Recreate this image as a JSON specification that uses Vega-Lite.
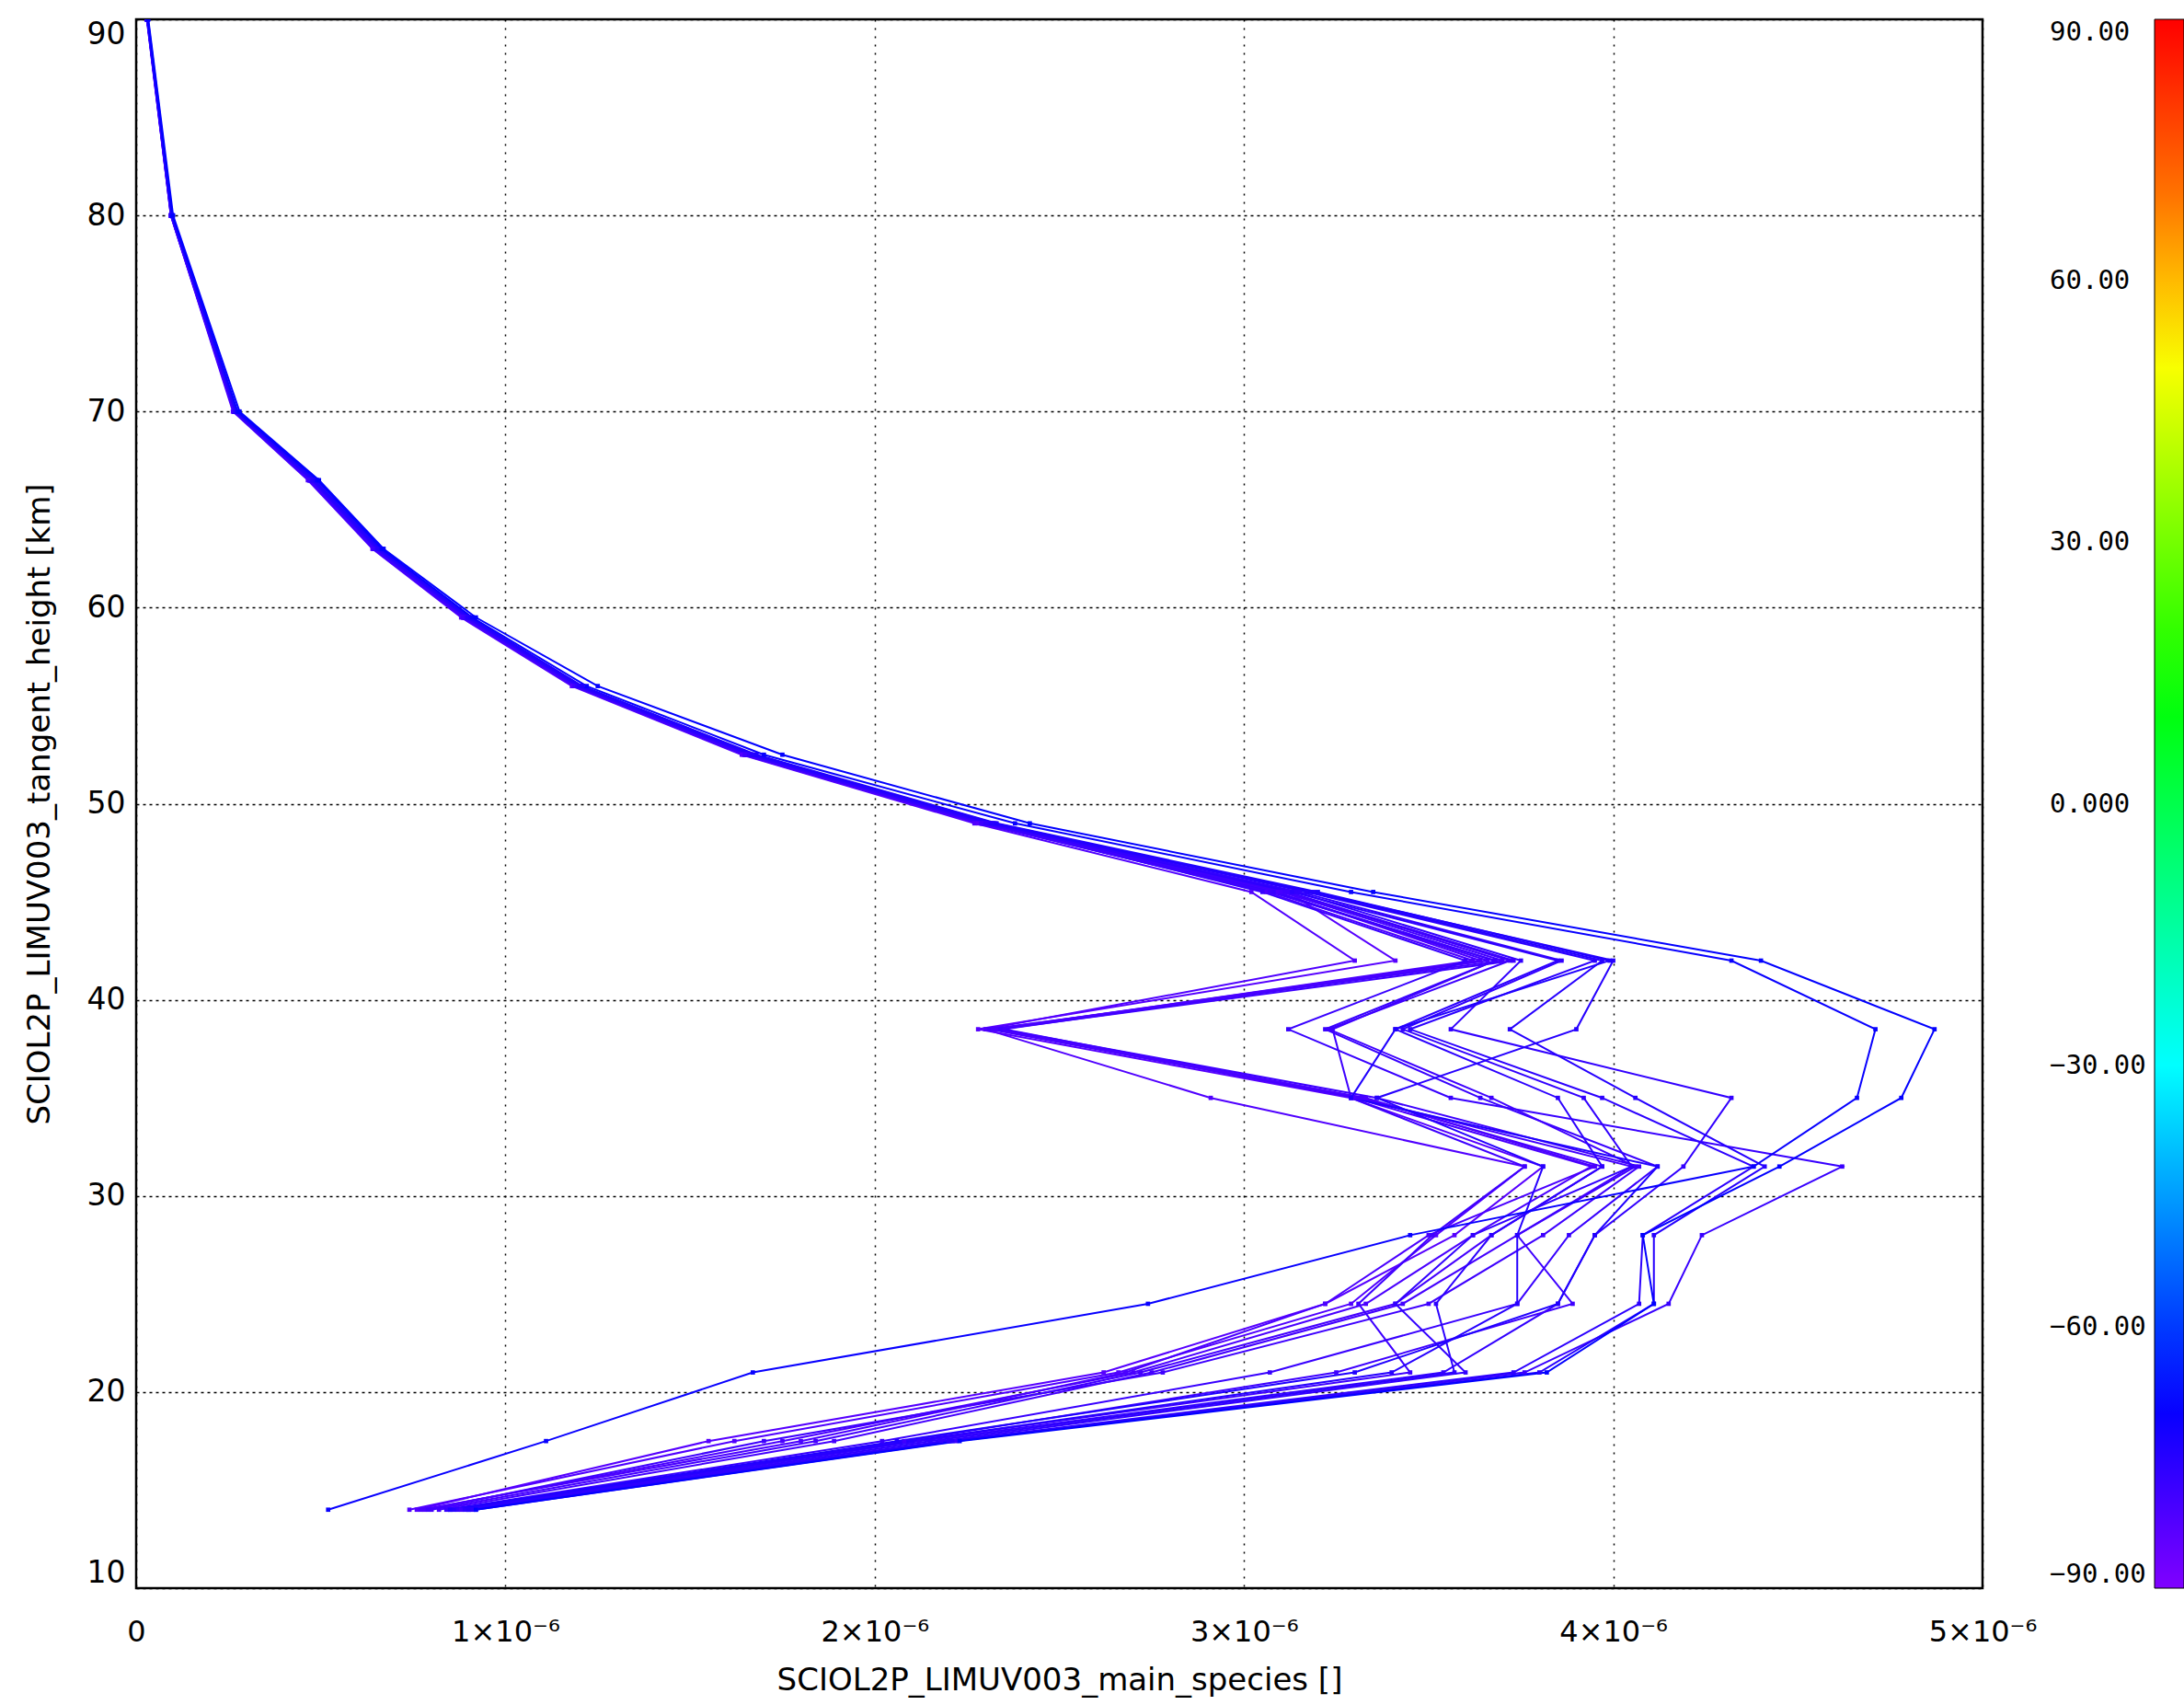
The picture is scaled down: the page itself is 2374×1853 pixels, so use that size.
{
  "$schema": "https://vega.github.io/schema/vega-lite/v6.json",
  "width": 2007,
  "height": 1705,
  "autosize": {"type": "none"},
  "padding": {"left": 148, "top": 21, "right": 219, "bottom": 127},
  "background": "white",
  "title": {"text": "Ozone along the orbit (colour = latitude at height)", "anchor": "middle", "baseline": "alphabetic", "offset": 23, "fontSize": 34, "font": "DejaVu Sans", "fontWeight": "normal", "color": "black", "dx": 90},
  "config": {
    "view": {"stroke": "black", "strokeWidth": 2.5},
    "axis": {"labelFont": "DejaVu Sans", "titleFont": "DejaVu Sans", "labelColor": "black", "titleColor": "black", "titleFontWeight": "normal", "grid": true, "gridColor": "black", "gridOpacity": 1, "gridWidth": 1.5, "ticks": false, "domain": false}
  },
  "resolve": {"legend": {"color": "independent"}},
  "datasets": {
    "profiles": [
      {"p":1,"lat":-82,"h":90,"v":0.030e-6},{"p":1,"lat":-82,"h":80,"v":0.094e-6},{"p":1,"lat":-82,"h":70,"v":0.262e-6},{"p":1,"lat":-82,"h":66.5,"v":0.465e-6},{"p":1,"lat":-82,"h":63,"v":0.640e-6},{"p":1,"lat":-82,"h":59.5,"v":0.880e-6},{"p":1,"lat":-82,"h":56,"v":1.180e-6},{"p":1,"lat":-82,"h":52.5,"v":1.640e-6},{"p":1,"lat":-82,"h":49,"v":2.270e-6},{"p":1,"lat":-82,"h":45.5,"v":3.020e-6},{"p":1,"lat":-82,"h":42,"v":3.300e-6},{"p":1,"lat":-82,"h":38.5,"v":2.300e-6},{"p":1,"lat":-82,"h":35,"v":2.910e-6},{"p":1,"lat":-82,"h":31.5,"v":3.760e-6},{"p":1,"lat":-82,"h":28,"v":3.520e-6},{"p":1,"lat":-82,"h":24.5,"v":3.290e-6},{"p":1,"lat":-82,"h":21,"v":2.660e-6},{"p":1,"lat":-82,"h":17.5,"v":1.620e-6},{"p":1,"lat":-82,"h":14,"v":0.740e-6},
      {"p":2,"lat":-83,"h":90,"v":0.030e-6},{"p":2,"lat":-83,"h":80,"v":0.095e-6},{"p":2,"lat":-83,"h":70,"v":0.265e-6},{"p":2,"lat":-83,"h":66.5,"v":0.470e-6},{"p":2,"lat":-83,"h":63,"v":0.645e-6},{"p":2,"lat":-83,"h":59.5,"v":0.885e-6},{"p":2,"lat":-83,"h":56,"v":1.185e-6},{"p":2,"lat":-83,"h":52.5,"v":1.645e-6},{"p":2,"lat":-83,"h":49,"v":2.280e-6},{"p":2,"lat":-83,"h":45.5,"v":3.120e-6},{"p":2,"lat":-83,"h":42,"v":3.410e-6},{"p":2,"lat":-83,"h":38.5,"v":2.280e-6},{"p":2,"lat":-83,"h":35,"v":3.290e-6},{"p":2,"lat":-83,"h":31.5,"v":3.810e-6},{"p":2,"lat":-83,"h":28,"v":3.570e-6},{"p":2,"lat":-83,"h":24.5,"v":3.220e-6},{"p":2,"lat":-83,"h":21,"v":2.620e-6},{"p":2,"lat":-83,"h":17.5,"v":1.550e-6},{"p":2,"lat":-83,"h":14,"v":0.760e-6},
      {"p":3,"lat":-81,"h":90,"v":0.031e-6},{"p":3,"lat":-81,"h":80,"v":0.096e-6},{"p":3,"lat":-81,"h":70,"v":0.266e-6},{"p":3,"lat":-81,"h":66.5,"v":0.472e-6},{"p":3,"lat":-81,"h":63,"v":0.648e-6},{"p":3,"lat":-81,"h":59.5,"v":0.890e-6},{"p":3,"lat":-81,"h":56,"v":1.190e-6},{"p":3,"lat":-81,"h":52.5,"v":1.650e-6},{"p":3,"lat":-81,"h":49,"v":2.290e-6},{"p":3,"lat":-81,"h":45.5,"v":3.060e-6},{"p":3,"lat":-81,"h":42,"v":3.620e-6},{"p":3,"lat":-81,"h":38.5,"v":2.330e-6},{"p":3,"lat":-81,"h":35,"v":3.300e-6},{"p":3,"lat":-81,"h":31.5,"v":3.940e-6},{"p":3,"lat":-81,"h":28,"v":3.620e-6},{"p":3,"lat":-81,"h":24.5,"v":3.330e-6},{"p":3,"lat":-81,"h":21,"v":2.700e-6},{"p":3,"lat":-81,"h":17.5,"v":1.750e-6},{"p":3,"lat":-81,"h":14,"v":0.780e-6},
      {"p":4,"lat":-80,"h":90,"v":0.030e-6},{"p":4,"lat":-80,"h":80,"v":0.095e-6},{"p":4,"lat":-80,"h":70,"v":0.268e-6},{"p":4,"lat":-80,"h":66.5,"v":0.475e-6},{"p":4,"lat":-80,"h":63,"v":0.650e-6},{"p":4,"lat":-80,"h":59.5,"v":0.895e-6},{"p":4,"lat":-80,"h":56,"v":1.195e-6},{"p":4,"lat":-80,"h":52.5,"v":1.660e-6},{"p":4,"lat":-80,"h":49,"v":2.300e-6},{"p":4,"lat":-80,"h":45.5,"v":3.080e-6},{"p":4,"lat":-80,"h":42,"v":3.660e-6},{"p":4,"lat":-80,"h":38.5,"v":2.350e-6},{"p":4,"lat":-80,"h":35,"v":3.320e-6},{"p":4,"lat":-80,"h":31.5,"v":3.970e-6},{"p":4,"lat":-80,"h":28,"v":3.670e-6},{"p":4,"lat":-80,"h":24.5,"v":3.410e-6},{"p":4,"lat":-80,"h":21,"v":2.720e-6},{"p":4,"lat":-80,"h":17.5,"v":1.840e-6},{"p":4,"lat":-80,"h":14,"v":0.800e-6},
      {"p":5,"lat":-80,"h":90,"v":0.029e-6},{"p":5,"lat":-80,"h":80,"v":0.094e-6},{"p":5,"lat":-80,"h":70,"v":0.264e-6},{"p":5,"lat":-80,"h":66.5,"v":0.468e-6},{"p":5,"lat":-80,"h":63,"v":0.642e-6},{"p":5,"lat":-80,"h":59.5,"v":0.885e-6},{"p":5,"lat":-80,"h":56,"v":1.188e-6},{"p":5,"lat":-80,"h":52.5,"v":1.652e-6},{"p":5,"lat":-80,"h":49,"v":2.295e-6},{"p":5,"lat":-80,"h":45.5,"v":3.100e-6},{"p":5,"lat":-80,"h":42,"v":3.700e-6},{"p":5,"lat":-80,"h":38.5,"v":2.310e-6},{"p":5,"lat":-80,"h":35,"v":3.310e-6},{"p":5,"lat":-80,"h":31.5,"v":4.050e-6},{"p":5,"lat":-80,"h":28,"v":3.740e-6},{"p":5,"lat":-80,"h":24.5,"v":3.430e-6},{"p":5,"lat":-80,"h":21,"v":2.750e-6},{"p":5,"lat":-80,"h":17.5,"v":1.890e-6},{"p":5,"lat":-80,"h":14,"v":0.820e-6},
      {"p":6,"lat":-79,"h":90,"v":0.030e-6},{"p":6,"lat":-79,"h":80,"v":0.095e-6},{"p":6,"lat":-79,"h":70,"v":0.266e-6},{"p":6,"lat":-79,"h":66.5,"v":0.470e-6},{"p":6,"lat":-79,"h":63,"v":0.646e-6},{"p":6,"lat":-79,"h":59.5,"v":0.892e-6},{"p":6,"lat":-79,"h":56,"v":1.192e-6},{"p":6,"lat":-79,"h":52.5,"v":1.656e-6},{"p":6,"lat":-79,"h":49,"v":2.300e-6},{"p":6,"lat":-79,"h":45.5,"v":3.120e-6},{"p":6,"lat":-79,"h":42,"v":3.730e-6},{"p":6,"lat":-79,"h":38.5,"v":2.340e-6},{"p":6,"lat":-79,"h":35,"v":3.360e-6},{"p":6,"lat":-79,"h":31.5,"v":4.070e-6},{"p":6,"lat":-79,"h":28,"v":3.810e-6},{"p":6,"lat":-79,"h":24.5,"v":3.500e-6},{"p":6,"lat":-79,"h":21,"v":2.780e-6},{"p":6,"lat":-79,"h":17.5,"v":1.700e-6},{"p":6,"lat":-79,"h":14,"v":0.790e-6},
      {"p":7,"lat":-81,"h":90,"v":0.030e-6},{"p":7,"lat":-81,"h":80,"v":0.095e-6},{"p":7,"lat":-81,"h":70,"v":0.265e-6},{"p":7,"lat":-81,"h":66.5,"v":0.470e-6},{"p":7,"lat":-81,"h":63,"v":0.645e-6},{"p":7,"lat":-81,"h":59.5,"v":0.888e-6},{"p":7,"lat":-81,"h":56,"v":1.190e-6},{"p":7,"lat":-81,"h":52.5,"v":1.650e-6},{"p":7,"lat":-81,"h":49,"v":2.290e-6},{"p":7,"lat":-81,"h":45.5,"v":3.090e-6},{"p":7,"lat":-81,"h":42,"v":3.640e-6},{"p":7,"lat":-81,"h":38.5,"v":2.320e-6},{"p":7,"lat":-81,"h":35,"v":3.330e-6},{"p":7,"lat":-81,"h":31.5,"v":3.950e-6},{"p":7,"lat":-81,"h":28,"v":3.500e-6},{"p":7,"lat":-81,"h":24.5,"v":3.220e-6},{"p":7,"lat":-81,"h":21,"v":2.680e-6},{"p":7,"lat":-81,"h":17.5,"v":1.800e-6},{"p":7,"lat":-81,"h":14,"v":0.770e-6},
      {"p":8,"lat":-77,"h":90,"v":0.031e-6},{"p":8,"lat":-77,"h":80,"v":0.097e-6},{"p":8,"lat":-77,"h":70,"v":0.270e-6},{"p":8,"lat":-77,"h":66.5,"v":0.480e-6},{"p":8,"lat":-77,"h":63,"v":0.655e-6},{"p":8,"lat":-77,"h":59.5,"v":0.900e-6},{"p":8,"lat":-77,"h":56,"v":1.200e-6},{"p":8,"lat":-77,"h":52.5,"v":1.670e-6},{"p":8,"lat":-77,"h":49,"v":2.320e-6},{"p":8,"lat":-77,"h":45.5,"v":3.140e-6},{"p":8,"lat":-77,"h":42,"v":3.750e-6},{"p":8,"lat":-77,"h":38.5,"v":3.560e-6},{"p":8,"lat":-77,"h":35,"v":4.320e-6},{"p":8,"lat":-77,"h":31.5,"v":4.190e-6},{"p":8,"lat":-77,"h":28,"v":3.950e-6},{"p":8,"lat":-77,"h":24.5,"v":3.850e-6},{"p":8,"lat":-77,"h":21,"v":3.540e-6},{"p":8,"lat":-77,"h":17.5,"v":2.120e-6},{"p":8,"lat":-77,"h":14,"v":0.870e-6},
      {"p":9,"lat":-78,"h":90,"v":0.030e-6},{"p":9,"lat":-78,"h":80,"v":0.096e-6},{"p":9,"lat":-78,"h":70,"v":0.268e-6},{"p":9,"lat":-78,"h":66.5,"v":0.476e-6},{"p":9,"lat":-78,"h":63,"v":0.652e-6},{"p":9,"lat":-78,"h":59.5,"v":0.895e-6},{"p":9,"lat":-78,"h":56,"v":1.196e-6},{"p":9,"lat":-78,"h":52.5,"v":1.662e-6},{"p":9,"lat":-78,"h":49,"v":2.305e-6},{"p":9,"lat":-78,"h":45.5,"v":3.050e-6},{"p":9,"lat":-78,"h":42,"v":3.600e-6},{"p":9,"lat":-78,"h":38.5,"v":3.120e-6},{"p":9,"lat":-78,"h":35,"v":3.560e-6},{"p":9,"lat":-78,"h":31.5,"v":4.620e-6},{"p":9,"lat":-78,"h":28,"v":4.240e-6},{"p":9,"lat":-78,"h":24.5,"v":4.150e-6},{"p":9,"lat":-78,"h":21,"v":3.760e-6},{"p":9,"lat":-78,"h":17.5,"v":2.220e-6},{"p":9,"lat":-78,"h":14,"v":0.920e-6},
      {"p":10,"lat":-78,"h":90,"v":0.030e-6},{"p":10,"lat":-78,"h":80,"v":0.095e-6},{"p":10,"lat":-78,"h":70,"v":0.267e-6},{"p":10,"lat":-78,"h":66.5,"v":0.474e-6},{"p":10,"lat":-78,"h":63,"v":0.648e-6},{"p":10,"lat":-78,"h":59.5,"v":0.890e-6},{"p":10,"lat":-78,"h":56,"v":1.190e-6},{"p":10,"lat":-78,"h":52.5,"v":1.655e-6},{"p":10,"lat":-78,"h":49,"v":2.295e-6},{"p":10,"lat":-78,"h":45.5,"v":3.080e-6},{"p":10,"lat":-78,"h":42,"v":3.680e-6},{"p":10,"lat":-78,"h":38.5,"v":3.220e-6},{"p":10,"lat":-78,"h":35,"v":3.640e-6},{"p":10,"lat":-78,"h":31.5,"v":4.120e-6},{"p":10,"lat":-78,"h":28,"v":3.880e-6},{"p":10,"lat":-78,"h":24.5,"v":3.740e-6},{"p":10,"lat":-78,"h":21,"v":3.070e-6},{"p":10,"lat":-78,"h":17.5,"v":2.020e-6},{"p":10,"lat":-78,"h":14,"v":0.840e-6},
      {"p":11,"lat":-79,"h":90,"v":0.030e-6},{"p":11,"lat":-79,"h":80,"v":0.095e-6},{"p":11,"lat":-79,"h":70,"v":0.266e-6},{"p":11,"lat":-79,"h":66.5,"v":0.471e-6},{"p":11,"lat":-79,"h":63,"v":0.646e-6},{"p":11,"lat":-79,"h":59.5,"v":0.890e-6},{"p":11,"lat":-79,"h":56,"v":1.192e-6},{"p":11,"lat":-79,"h":52.5,"v":1.652e-6},{"p":11,"lat":-79,"h":49,"v":2.292e-6},{"p":11,"lat":-79,"h":45.5,"v":3.110e-6},{"p":11,"lat":-79,"h":42,"v":3.720e-6},{"p":11,"lat":-79,"h":38.5,"v":3.230e-6},{"p":11,"lat":-79,"h":35,"v":3.670e-6},{"p":11,"lat":-79,"h":31.5,"v":4.060e-6},{"p":11,"lat":-79,"h":28,"v":3.740e-6},{"p":11,"lat":-79,"h":24.5,"v":3.890e-6},{"p":11,"lat":-79,"h":21,"v":3.250e-6},{"p":11,"lat":-79,"h":17.5,"v":2.080e-6},{"p":11,"lat":-79,"h":14,"v":0.850e-6},
      {"p":12,"lat":-79,"h":90,"v":0.029e-6},{"p":12,"lat":-79,"h":80,"v":0.094e-6},{"p":12,"lat":-79,"h":70,"v":0.265e-6},{"p":12,"lat":-79,"h":66.5,"v":0.469e-6},{"p":12,"lat":-79,"h":63,"v":0.644e-6},{"p":12,"lat":-79,"h":59.5,"v":0.887e-6},{"p":12,"lat":-79,"h":56,"v":1.187e-6},{"p":12,"lat":-79,"h":52.5,"v":1.648e-6},{"p":12,"lat":-79,"h":49,"v":2.288e-6},{"p":12,"lat":-79,"h":45.5,"v":3.070e-6},{"p":12,"lat":-79,"h":42,"v":3.680e-6},{"p":12,"lat":-79,"h":38.5,"v":3.240e-6},{"p":12,"lat":-79,"h":35,"v":3.290e-6},{"p":12,"lat":-79,"h":31.5,"v":3.760e-6},{"p":12,"lat":-79,"h":28,"v":3.510e-6},{"p":12,"lat":-79,"h":24.5,"v":3.310e-6},{"p":12,"lat":-79,"h":21,"v":3.450e-6},{"p":12,"lat":-79,"h":17.5,"v":2.100e-6},{"p":12,"lat":-79,"h":14,"v":0.880e-6},
      {"p":13,"lat":-76,"h":90,"v":0.031e-6},{"p":13,"lat":-76,"h":80,"v":0.096e-6},{"p":13,"lat":-76,"h":70,"v":0.269e-6},{"p":13,"lat":-76,"h":66.5,"v":0.478e-6},{"p":13,"lat":-76,"h":63,"v":0.653e-6},{"p":13,"lat":-76,"h":59.5,"v":0.897e-6},{"p":13,"lat":-76,"h":56,"v":1.198e-6},{"p":13,"lat":-76,"h":52.5,"v":1.665e-6},{"p":13,"lat":-76,"h":49,"v":2.310e-6},{"p":13,"lat":-76,"h":45.5,"v":3.130e-6},{"p":13,"lat":-76,"h":42,"v":3.850e-6},{"p":13,"lat":-76,"h":38.5,"v":3.410e-6},{"p":13,"lat":-76,"h":35,"v":3.850e-6},{"p":13,"lat":-76,"h":31.5,"v":3.970e-6},{"p":13,"lat":-76,"h":28,"v":3.670e-6},{"p":13,"lat":-76,"h":24.5,"v":3.520e-6},{"p":13,"lat":-76,"h":21,"v":3.570e-6},{"p":13,"lat":-76,"h":17.5,"v":2.150e-6},{"p":13,"lat":-76,"h":14,"v":0.890e-6},
      {"p":14,"lat":-77,"h":90,"v":0.030e-6},{"p":14,"lat":-77,"h":80,"v":0.096e-6},{"p":14,"lat":-77,"h":70,"v":0.268e-6},{"p":14,"lat":-77,"h":66.5,"v":0.476e-6},{"p":14,"lat":-77,"h":63,"v":0.650e-6},{"p":14,"lat":-77,"h":59.5,"v":0.894e-6},{"p":14,"lat":-77,"h":56,"v":1.194e-6},{"p":14,"lat":-77,"h":52.5,"v":1.660e-6},{"p":14,"lat":-77,"h":49,"v":2.300e-6},{"p":14,"lat":-77,"h":45.5,"v":3.150e-6},{"p":14,"lat":-77,"h":42,"v":3.860e-6},{"p":14,"lat":-77,"h":38.5,"v":3.430e-6},{"p":14,"lat":-77,"h":35,"v":3.920e-6},{"p":14,"lat":-77,"h":31.5,"v":4.050e-6},{"p":14,"lat":-77,"h":28,"v":3.620e-6},{"p":14,"lat":-77,"h":24.5,"v":3.410e-6},{"p":14,"lat":-77,"h":21,"v":3.600e-6},{"p":14,"lat":-77,"h":17.5,"v":2.180e-6},{"p":14,"lat":-77,"h":14,"v":0.900e-6},
      {"p":15,"lat":-76,"h":90,"v":0.031e-6},{"p":15,"lat":-76,"h":80,"v":0.097e-6},{"p":15,"lat":-76,"h":70,"v":0.270e-6},{"p":15,"lat":-76,"h":66.5,"v":0.480e-6},{"p":15,"lat":-76,"h":63,"v":0.656e-6},{"p":15,"lat":-76,"h":59.5,"v":0.900e-6},{"p":15,"lat":-76,"h":56,"v":1.202e-6},{"p":15,"lat":-76,"h":52.5,"v":1.672e-6},{"p":15,"lat":-76,"h":49,"v":2.320e-6},{"p":15,"lat":-76,"h":45.5,"v":3.170e-6},{"p":15,"lat":-76,"h":42,"v":3.950e-6},{"p":15,"lat":-76,"h":38.5,"v":3.450e-6},{"p":15,"lat":-76,"h":35,"v":3.970e-6},{"p":15,"lat":-76,"h":31.5,"v":4.380e-6},{"p":15,"lat":-76,"h":28,"v":4.080e-6},{"p":15,"lat":-76,"h":24.5,"v":4.070e-6},{"p":15,"lat":-76,"h":21,"v":3.730e-6},{"p":15,"lat":-76,"h":17.5,"v":2.200e-6},{"p":15,"lat":-76,"h":14,"v":0.910e-6},
      {"p":16,"lat":-75,"h":90,"v":0.031e-6},{"p":16,"lat":-75,"h":80,"v":0.097e-6},{"p":16,"lat":-75,"h":70,"v":0.271e-6},{"p":16,"lat":-75,"h":66.5,"v":0.482e-6},{"p":16,"lat":-75,"h":63,"v":0.658e-6},{"p":16,"lat":-75,"h":59.5,"v":0.902e-6},{"p":16,"lat":-75,"h":56,"v":1.205e-6},{"p":16,"lat":-75,"h":52.5,"v":1.675e-6},{"p":16,"lat":-75,"h":49,"v":2.325e-6},{"p":16,"lat":-75,"h":45.5,"v":3.180e-6},{"p":16,"lat":-75,"h":42,"v":3.970e-6},{"p":16,"lat":-75,"h":38.5,"v":3.720e-6},{"p":16,"lat":-75,"h":35,"v":4.060e-6},{"p":16,"lat":-75,"h":31.5,"v":4.410e-6},{"p":16,"lat":-75,"h":28,"v":4.110e-6},{"p":16,"lat":-75,"h":24.5,"v":4.110e-6},{"p":16,"lat":-75,"h":21,"v":3.800e-6},{"p":16,"lat":-75,"h":17.5,"v":2.210e-6},{"p":16,"lat":-75,"h":14,"v":0.900e-6},
      {"p":17,"lat":-75,"h":90,"v":0.030e-6},{"p":17,"lat":-75,"h":80,"v":0.096e-6},{"p":17,"lat":-75,"h":70,"v":0.269e-6},{"p":17,"lat":-75,"h":66.5,"v":0.478e-6},{"p":17,"lat":-75,"h":63,"v":0.654e-6},{"p":17,"lat":-75,"h":59.5,"v":0.898e-6},{"p":17,"lat":-75,"h":56,"v":1.200e-6},{"p":17,"lat":-75,"h":52.5,"v":1.668e-6},{"p":17,"lat":-75,"h":49,"v":2.315e-6},{"p":17,"lat":-75,"h":45.5,"v":3.190e-6},{"p":17,"lat":-75,"h":42,"v":4.000e-6},{"p":17,"lat":-75,"h":38.5,"v":3.900e-6},{"p":17,"lat":-75,"h":35,"v":3.360e-6},{"p":17,"lat":-75,"h":31.5,"v":3.810e-6},{"p":17,"lat":-75,"h":28,"v":3.740e-6},{"p":17,"lat":-75,"h":24.5,"v":3.740e-6},{"p":17,"lat":-75,"h":21,"v":3.400e-6},{"p":17,"lat":-75,"h":17.5,"v":2.100e-6},{"p":17,"lat":-75,"h":14,"v":0.860e-6},
      {"p":18,"lat":-74,"h":90,"v":0.031e-6},{"p":18,"lat":-74,"h":80,"v":0.097e-6},{"p":18,"lat":-74,"h":70,"v":0.272e-6},{"p":18,"lat":-74,"h":66.5,"v":0.484e-6},{"p":18,"lat":-74,"h":63,"v":0.660e-6},{"p":18,"lat":-74,"h":59.5,"v":0.905e-6},{"p":18,"lat":-74,"h":56,"v":1.208e-6},{"p":18,"lat":-74,"h":52.5,"v":1.680e-6},{"p":18,"lat":-74,"h":49,"v":2.330e-6},{"p":18,"lat":-74,"h":45.5,"v":3.200e-6},{"p":18,"lat":-74,"h":42,"v":3.990e-6},{"p":18,"lat":-74,"h":38.5,"v":3.410e-6},{"p":18,"lat":-74,"h":35,"v":3.290e-6},{"p":18,"lat":-74,"h":31.5,"v":4.120e-6},{"p":18,"lat":-74,"h":28,"v":3.950e-6},{"p":18,"lat":-74,"h":24.5,"v":3.850e-6},{"p":18,"lat":-74,"h":21,"v":3.300e-6},{"p":18,"lat":-74,"h":17.5,"v":2.060e-6},{"p":18,"lat":-74,"h":14,"v":0.850e-6},
      {"p":19,"lat":-70,"h":90,"v":0.032e-6},{"p":19,"lat":-70,"h":80,"v":0.098e-6},{"p":19,"lat":-70,"h":70,"v":0.275e-6},{"p":19,"lat":-70,"h":66.5,"v":0.490e-6},{"p":19,"lat":-70,"h":63,"v":0.665e-6},{"p":19,"lat":-70,"h":59.5,"v":0.910e-6},{"p":19,"lat":-70,"h":56,"v":1.220e-6},{"p":19,"lat":-70,"h":52.5,"v":1.700e-6},{"p":19,"lat":-70,"h":49,"v":2.380e-6},{"p":19,"lat":-70,"h":45.5,"v":3.290e-6},{"p":19,"lat":-70,"h":42,"v":4.320e-6},{"p":19,"lat":-70,"h":38.5,"v":4.710e-6},{"p":19,"lat":-70,"h":35,"v":4.660e-6},{"p":19,"lat":-70,"h":31.5,"v":4.380e-6},{"p":19,"lat":-70,"h":28,"v":3.450e-6},{"p":19,"lat":-70,"h":24.5,"v":2.740e-6},{"p":19,"lat":-70,"h":21,"v":1.670e-6},{"p":19,"lat":-70,"h":17.5,"v":1.110e-6},{"p":19,"lat":-70,"h":14,"v":0.520e-6},
      {"p":20,"lat":-69,"h":90,"v":0.033e-6},{"p":20,"lat":-69,"h":80,"v":0.100e-6},{"p":20,"lat":-69,"h":70,"v":0.280e-6},{"p":20,"lat":-69,"h":66.5,"v":0.495e-6},{"p":20,"lat":-69,"h":63,"v":0.670e-6},{"p":20,"lat":-69,"h":59.5,"v":0.920e-6},{"p":20,"lat":-69,"h":56,"v":1.250e-6},{"p":20,"lat":-69,"h":52.5,"v":1.750e-6},{"p":20,"lat":-69,"h":49,"v":2.420e-6},{"p":20,"lat":-69,"h":45.5,"v":3.350e-6},{"p":20,"lat":-69,"h":42,"v":4.400e-6},{"p":20,"lat":-69,"h":38.5,"v":4.870e-6},{"p":20,"lat":-69,"h":35,"v":4.780e-6},{"p":20,"lat":-69,"h":31.5,"v":4.450e-6},{"p":20,"lat":-69,"h":28,"v":4.080e-6},{"p":20,"lat":-69,"h":24.5,"v":4.110e-6},{"p":20,"lat":-69,"h":21,"v":3.820e-6},{"p":20,"lat":-69,"h":17.5,"v":2.230e-6},{"p":20,"lat":-69,"h":14,"v":0.920e-6}
    ]
  },
  "data": {"name": "profiles"},
  "encoding": {
    "x": {
      "field": "v", "type": "quantitative",
      "scale": {"domain": [0, 5e-6], "nice": false, "zero": false},
      "axis": {
        "title": "SCIOL2P_LIMUV003_main_species []",
        "values": [0, 1e-6, 2e-6, 3e-6, 4e-6, 5e-6],
        "labelExpr": "datum.value == 0 ? '0' : round(datum.value * 1e6) + '×10⁻⁶'",
        "labelFontSize": 32, "labelPadding": 32, "titleFontSize": 34, "titlePadding": 20,
        "labelFlush": false, "gridDash": [2, 7]
      }
    },
    "y": {
      "field": "h", "type": "quantitative",
      "scale": {"domain": [10, 90], "nice": false, "zero": false},
      "axis": {
        "title": "SCIOL2P_LIMUV003_tangent_height [km]",
        "values": [10, 20, 30, 40, 50, 60, 70, 80, 90],
        "labelFontSize": 33, "labelPadding": 12, "titleFontSize": 34, "titlePadding": 34,
        "labelFlush": true, "gridDash": [3, 4]
      }
    }
  },
  "layer": [
    {
      "mark": {"type": "line", "strokeWidth": 2, "clip": true},
      "encoding": {
        "order": {"field": "h", "type": "quantitative"},
        "detail": {"field": "p", "type": "nominal"},
        "color": {
          "field": "lat", "type": "quantitative",
          "scale": {"domain": [-90, -68.75, -30, 12.5, 51, 67.5, 90], "range": ["#8000ff", "#0000ff", "#00ffff", "#00ff00", "#ffff00", "#ff8000", "#ff0000"], "interpolate": "rgb"},
          "legend": null
        }
      }
    },
    {
      "mark": {"type": "square", "size": 22, "clip": true, "opacity": 1},
      "encoding": {
        "color": {
          "field": "lat", "type": "quantitative",
          "legend": {
            "type": "gradient",
            "orient": "none", "legendX": 2194, "legendY": 0, "direction": "vertical",
            "title": null, "gradientLength": 1705, "gradientThickness": 32,
            "values": [-90, -60, -30, 0, 30, 60, 90],
            "labelExpr": "(datum.value >= 0 ? '\u00a0' : '') + (datum.value == 0 ? '0.000' : format(datum.value, '.2f'))",
            "labelOffset": -146, "labelFontSize": 29, "labelFont": "DejaVu Sans Mono", "labelColor": "black",
            "gradientStrokeColor": "black", "gradientStrokeWidth": 1
          }
        }
      }
    }
  ]
}
